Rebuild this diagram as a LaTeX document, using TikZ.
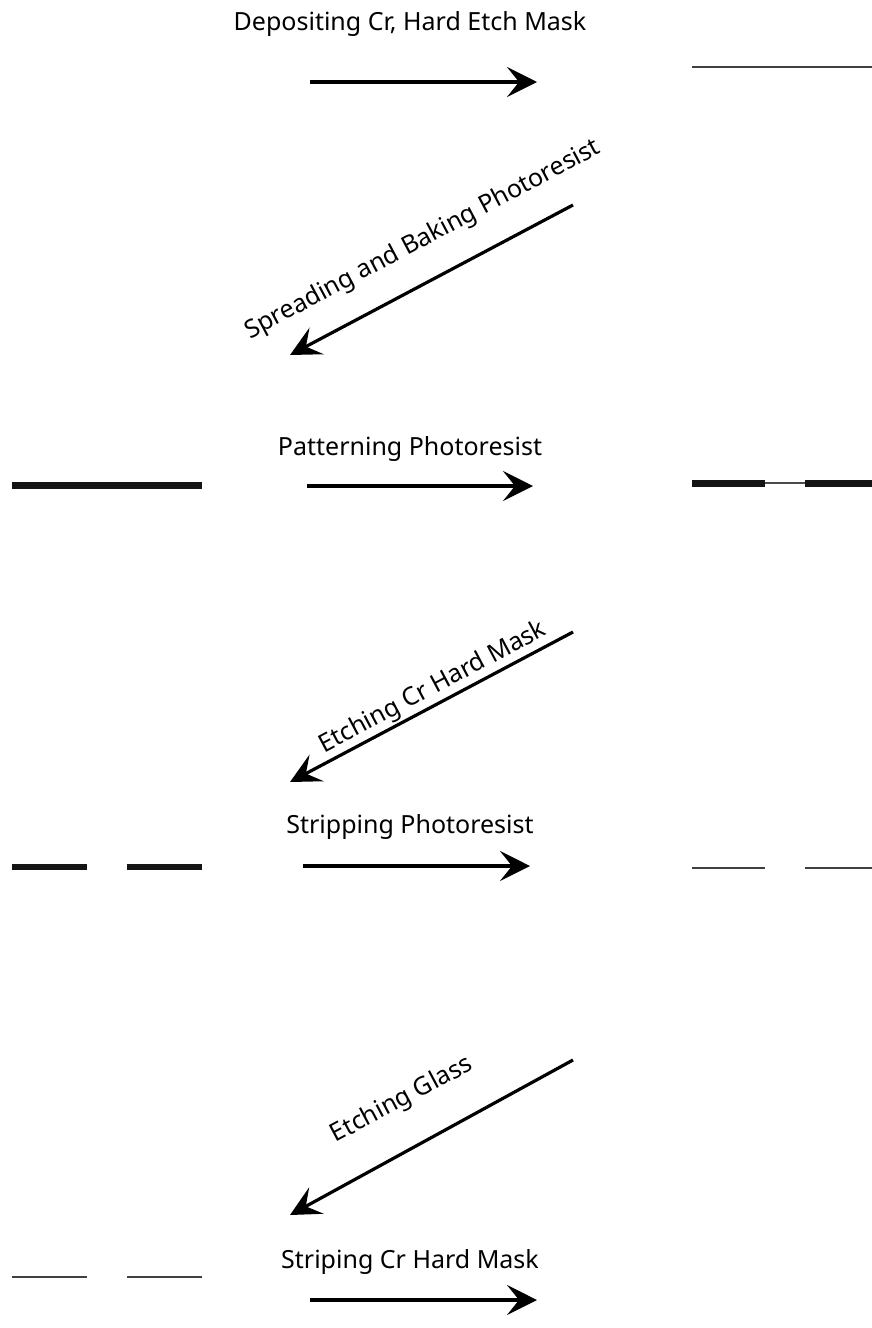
\documentclass[tikz,border=0pt]{standalone}
\usepackage{fontspec}
\setmainfont{Noto Sans}
\usetikzlibrary{arrows.meta}
\begin{document}
\begin{tikzpicture}[x=1pt,y=-1pt,
  lbl/.style={font=\fontsize{25}{29}\selectfont, inner sep=0pt, anchor=base},
  dlbl/.style={font=\fontsize{25}{29}\selectfont, inner sep=0pt, rotate=28},
  proc/.style={line width=3.2pt, -{Stealth[length=30pt,width=30pt,inset=12pt]}},
  thicklayer/.style={line width=7pt, draw=black!92},
  thinlayer/.style={line width=2.8pt, draw=black!75}]
\useasboundingbox (0,0) rectangle (872,1328);

% Row 1
\node[lbl] (t1) at (410,30) {Depositing Cr, Hard Etch Mask};
\coordinate (a1s) at (310,82); \coordinate (a1e) at (537,82);
\draw[proc] (a1s) -- (a1e);
\coordinate (r1a) at (692,67); \coordinate (r1b) at (872,67);
\draw[thinlayer] (r1a) -- (r1b);

% Diagonal 1
\coordinate (d1s) at (573,205); \coordinate (d1e) at (290,355);
\draw[proc] (d1s) -- (d1e);
\node[dlbl] (l1) at (423,240) {Spreading and Baking Photoresist};

% Row 2
\node[lbl] (t2) at (410,455) {Patterning Photoresist};
\coordinate (a2s) at (307,486); \coordinate (a2e) at (533,486);
\draw[proc] (a2s) -- (a2e);
\coordinate (l2a) at (12,485); \coordinate (l2b) at (202,485);
\draw[thicklayer] (l2a) -- (l2b);
\coordinate (r2a) at (692,483); \coordinate (r2b) at (765,483);
\coordinate (r2c) at (805,483); \coordinate (r2d) at (872,483);
\draw[thicklayer] (r2a) -- (r2b);
\draw[line width=1.4pt, draw=black!70] (r2b) -- (r2c);
\draw[thicklayer] (r2c) -- (r2d);

% Diagonal 2
\coordinate (d2s) at (573,632); \coordinate (d2e) at (290,782);
\draw[proc] (d2s) -- (d2e);
\node[dlbl] (l2) at (433,688) {Etching Cr Hard Mask};

% Row 3
\node[lbl] (t3) at (410,833) {Stripping Photoresist};
\coordinate (a3s) at (303,866); \coordinate (a3e) at (530,866);
\draw[proc] (a3s) -- (a3e);
\coordinate (l3a) at (12,867); \coordinate (l3b) at (87,867);
\coordinate (l3c) at (127,867); \coordinate (l3d) at (202,867);
\draw[thicklayer, line width=6pt] (l3a) -- (l3b);
\draw[thicklayer, line width=6pt] (l3c) -- (l3d);
\coordinate (r3a) at (692,868); \coordinate (r3b) at (765,868);
\coordinate (r3c) at (805,868); \coordinate (r3d) at (872,868);
\draw[thinlayer] (r3a) -- (r3b);
\draw[thinlayer] (r3c) -- (r3d);

% Diagonal 3
\coordinate (d3s) at (573,1060); \coordinate (d3e) at (290,1215);
\draw[proc] (d3s) -- (d3e);
\node[dlbl] (l3) at (402,1100) {Etching Glass};

% Row 4
\node[lbl] (t4) at (410,1268) {Striping Cr Hard Mask};
\coordinate (a4s) at (310,1300); \coordinate (a4e) at (537,1300);
\draw[proc] (a4s) -- (a4e);
\coordinate (l4a) at (12,1277); \coordinate (l4b) at (87,1277);
\coordinate (l4c) at (127,1277); \coordinate (l4d) at (202,1277);
\draw[thinlayer] (l4a) -- (l4b);
\draw[thinlayer] (l4c) -- (l4d);
\end{tikzpicture}
\end{document}
